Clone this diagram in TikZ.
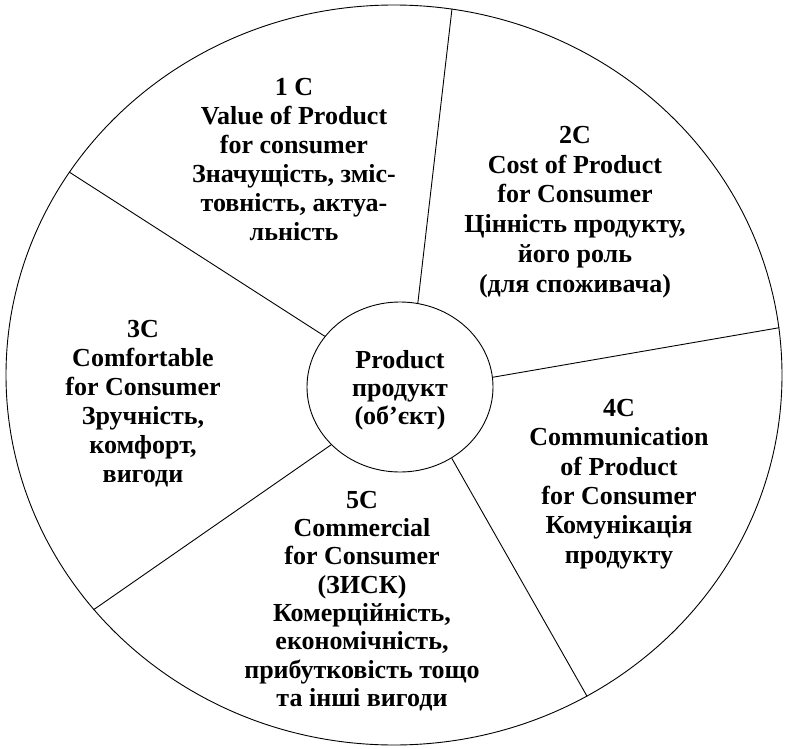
\documentclass[tikz,border=0pt]{standalone}
\usepackage{fontspec}
\setmainfont{Liberation Serif}
\usetikzlibrary{shapes.geometric}
\begin{document}
\begin{tikzpicture}[x=1pt,y=-1pt,
  ring/.style={ellipse,draw=black,line width=0.9pt,inner sep=0pt},
  divider/.style={draw=black,line width=0.9pt},
  sector/.style={align=center,font=\bfseries\fontsize{26}{29}\selectfont,inner sep=0pt}]
  \useasboundingbox (0,0) rectangle (785,749);

  % outer wheel and the hub
  \node[ring,minimum width=776pt,minimum height=740pt] (wheel) at (394,375) {};
  \node[ring,minimum width=186pt,minimum height=170pt] (hub) at (400,387) {};

  % spokes from the hub to the rim
  \draw[divider] (hub.78.7)  -- (wheel.81);
  \draw[divider] (hub.6.1)   -- (wheel.7.1);
  \draw[divider] (hub.-54.5) -- (wheel.-59.3);
  \draw[divider] (hub.220.9) -- (wheel.218.5);
  \draw[divider] (hub.146.3) -- (wheel.148.5);

  % hub text
  \node[sector,font=\bfseries\fontsize{26}{28}\selectfont] (product) at (400,390)
    {Product\\продукт\\(об'єкт)};

  % sector texts
  \node[sector] (c1) at (294,160)
    {1 C\\Value of Product\\for consumer\\Значущість, зміс-\\товність, актуа-\\льність};
  \node[sector,font=\bfseries\fontsize{26}{29.8}\selectfont] (c2) at (575,212)
    {2C\\Cost of Product\\for Consumer\\Цінність продукту,\\його роль\\(для споживача)};
  \node[sector] (c3) at (143,404)
    {3C\\Comfortable\\for Consumer\\Зручність,\\комфорт,\\вигоди};
  \node[sector,font=\bfseries\fontsize{26}{29.4}\selectfont] (c4) at (619,484)
    {4C\\Communication\\of Product\\for Consumer\\Комунікація\\продукту};
  \node[sector,font=\bfseries\fontsize{26}{28.3}\selectfont] (c5) at (362,601)
    {5C\\Commercial\\for Consumer\\(ЗИСК)\\Комерційність,\\економічність,\\прибутковість тощо\\та інші вигоди};
\end{tikzpicture}
\end{document}
